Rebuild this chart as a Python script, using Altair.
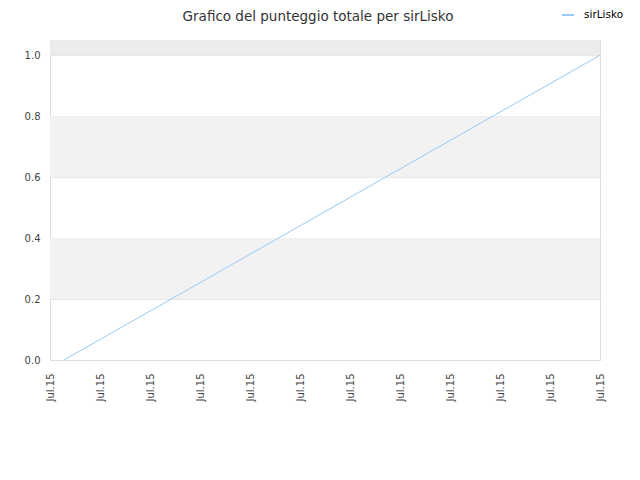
import altair as alt
import pandas as pd

series_name = ["sirLisko", "sirLisko"]
x_pos = [0.28, 11.0]
scores = [0.0, 1.0]
tick_positions = list(range(12))
tick_label = "Jul.15"
y_ticks = [0.0, 0.2, 0.4, 0.6, 0.8, 1.0]
band_lo = [1.0, 0.6, 0.2]
band_hi = [1.05, 0.8, 0.4]
band_col = ["#ececec", "#f2f2f2", "#f2f2f2"]
title_text = ["Grafico del punteggio totale per sirLisko"]

line_df = pd.DataFrame({"x": x_pos, "y": scores, "s": series_name})
band_df = pd.DataFrame({"lo": band_lo, "hi": band_hi, "c": band_col})
title_df = pd.DataFrame({"t": title_text})

W, H = 550, 320
FONT = "DejaVu Sans"

ysc = alt.Scale(domain=[0, 1.05], nice=False, zero=False)

bands = alt.Chart(band_df).mark_rect().encode(
    x=alt.value(0), x2=alt.value(W),
    y=alt.Y("lo:Q", scale=ysc,
            axis=alt.Axis(values=y_ticks, format=".1f", title=None, ticks=False,
                          labelPadding=10, labelFontSize=10, labelColor="#444",
                          labelFont=FONT, grid=True, gridColor="#e6e6e6",
                          domain=True, domainColor="#dddddd")),
    y2="hi:Q",
    color=alt.Color("c:N", scale=None),
)

line = alt.Chart(line_df).mark_line(strokeWidth=1).encode(
    x=alt.X("x:Q", scale=alt.Scale(domain=[0, 11], nice=False, zero=False),
            axis=alt.Axis(values=tick_positions, labelExpr=f"'{tick_label}'", labelAngle=270,
                          title=None, ticks=False, grid=False, labelPadding=13,
                          labelFontSize=10, labelColor="#444", labelFont=FONT,
                          domainColor="#dddddd")),
    y=alt.Y("y:Q", scale=ysc),
    color=alt.Color("s:N", scale=alt.Scale(domain=["sirLisko"], range=["#99c9f5"]),
                    legend=alt.Legend(title=None, orient="none", legendX=511, legendY=-32,
                                      padding=0, symbolType="stroke", symbolStrokeWidth=2,
                                      symbolSize=144, labelOffset=9,
                                      labelFontSize=10.5, labelColor="#000", labelFont=FONT)),
)

title = alt.Chart(title_df).mark_text(fontSize=13.5, color="#333", font=FONT, align="center",
                                      baseline="alphabetic").encode(
    text="t:N", x=alt.value(W / 2 - 7), y=alt.value(-19.5))

chart = alt.layer(bands, line, title).properties(
    width=W, height=H,
    autosize=alt.AutoSizeParams(type="none"),
    padding={"left": 42, "top": 32, "right": 32, "bottom": 100},
).configure_view(stroke="#dddddd", strokeWidth=1)

chart.save("out.html", embed_options={"renderer": "svg", "actions": False})
